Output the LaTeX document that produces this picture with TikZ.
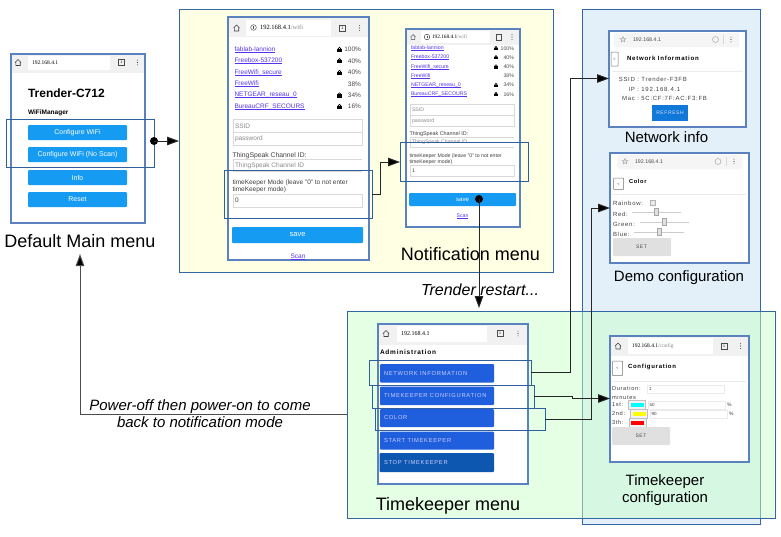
\documentclass[tikz,border=0pt]{standalone}
\usepackage{fontspec}
\setmainfont{Liberation Sans}
\newfontfamily\spf{Liberation Sans}[LetterSpace=12]
\newfontfamily\addrf{Liberation Serif}
\usetikzlibrary{arrows.meta,calc}
\definecolor{frameblue}{HTML}{5A82BE}
\definecolor{hlblue}{HTML}{2F5F9F}
\definecolor{panelblue}{HTML}{3465A4}
\definecolor{panelyellow}{HTML}{FFFFE3}
\definecolor{panelsky}{HTML}{E3F0FA}
\definecolor{panelgreen}{HTML}{CBFFCB}
\definecolor{wifibtn}{HTML}{169BF3}
\definecolor{tkbtn}{HTML}{1F5FDD}
\definecolor{tkdark}{HTML}{0D57B0}
\definecolor{linkc}{HTML}{5533EE}
\definecolor{barg}{HTML}{F1F1F1}
\definecolor{greytext}{HTML}{8A8A8A}
\definecolor{setgrey}{HTML}{E0E0E0}
\definecolor{refreshb}{HTML}{1078D8}
\definecolor{swcyan}{HTML}{00FFFF}
\definecolor{swyellow}{HTML}{FFFF00}
\definecolor{swred}{HTML}{FF0000}
\newcommand\fs[1]{\fontsize{#1}{#1}\selectfont}
\newcommand\fsl[2]{\fontsize{#1}{#2}\selectfont}
\newcommand\ulk[1]{\setbox0\hbox{#1}\rlap{\vrule width\wd0 height -.6pt depth .95pt}\box0 }
\newcount\tcnt
\newcommand\tx[4][]{\global\advance\tcnt by 1 \node[txt,#1] (t\the\tcnt) at (#2,#3) {#4};}
\newcommand\rbox[6][]{\fill[#2,#1] (#3,#4) rectangle (#5,#6);}
\newcommand\nbox[6]{\pgfmathsetmacro\hw{#5-#3}\pgfmathsetmacro\hh{#6-#4}\pgfmathsetmacro\cx{(#3+#5)/2}\pgfmathsetmacro\cy{(#4+#6)/2}\node[#1,minimum width=\hw pt,minimum height=\hh pt] (#2) at (\cx,\cy) {};}
\newcommand\homeicon[2]{\begin{scope}[shift={(#1,#2)}]\draw[black!75,line width=.6] (-3,0) -- (0,-3) -- (3,0) (-2.2,-.6) -- (-2.2,3) -- (2.2,3) -- (2.2,-.6);\end{scope}}
\newcommand\tabicon[2]{\begin{scope}[shift={(#1,#2)}]\draw[black!70,line width=.6] (-3,-3) rectangle (3,3);\node[txt,anchor=center] (tab#1) at (0,0) {\fs{3.5}1};\end{scope}}
\newcommand\dotsicon[2]{\begin{scope}[shift={(#1,#2)}]\fill[black!70] (0,-2.4) circle (.55) (0,0) circle (.55) (0,2.4) circle (.55);\end{scope}}
\newcommand\infoicon[2]{\begin{scope}[shift={(#1,#2)}]\draw[black!70,line width=.5] (0,0) circle (2.8);\fill[black!70] (-.3,-1.2) rectangle (.3,1.4);\end{scope}}
\newcommand\lockicon[3]{\begin{scope}[shift={(#1,#2)},scale=#3]\draw[black,line width=.6] (0,-1) circle (1.3);\fill[black] (-2,-.8) rectangle (2,2.2);\end{scope}}
\newcommand\staricon[2]{\begin{scope}[shift={(#1,#2)}]\draw[black!35,line width=.5] (0,-3) -- (.8,-1) -- (2.9,-.9) -- (1.2,.4) -- (1.8,2.4) -- (0,1.2) -- (-1.8,2.4) -- (-1.2,.4) -- (-2.9,-.9) -- (-.8,-1) -- cycle;\end{scope}}
\newcommand\reloadicon[2]{\begin{scope}[shift={(#1,#2)}]\draw[black!30,line width=.6] (0,0) circle (3);\end{scope}}
\newcommand\slider[3]{\draw[black!20,line width=.8] (#1,#3) -- (#2,#3);}
\newcommand\thumb[2]{\draw[black!35,fill=black!12,line width=.4] ({#1-2},{#2-3.5}) rectangle ({#1+2},{#2+3.5});}
\tikzset{
  txt/.style={inner sep=0pt,outer sep=0pt,anchor=west,text=black},
  capt/.style={inner sep=0pt,outer sep=0pt,anchor=center,align=center,text=black},
  panelbox/.style={draw=panelblue,line width=1pt,inner sep=0pt,outer sep=0pt},
  screen/.style={draw=frameblue,line width=1.1pt,fill=white,inner sep=0pt,outer sep=0pt},
  hlbox/.style={draw=hlblue,line width=1pt,inner sep=0pt,outer sep=0pt},
  btn/.style={rounded corners=1pt},
  conn/.style={draw=black!85,line width=1pt},
  arr/.style={conn,-{Triangle[length=12pt,width=8.5pt,fill=black]}},
  dotn/.style={circle,fill=black,inner sep=0pt,minimum size=8pt},
  field/.style={draw=black!15,line width=.7pt,fill=white},
}
\begin{document}
\begin{tikzpicture}[x=1pt,y=-1pt]
\useasboundingbox (0,0) rectangle (781,536);
% panels
\nbox{panelbox,fill=panelsky}{demopanel}{582}{9}{760}{524}
\nbox{panelbox,fill=panelyellow}{notifpanel}{179}{9}{553}{272}
\nbox{panelbox,fill=panelgreen,fill opacity=.5}{tkpanel}{347}{311}{775}{518}

% ---------- main menu
\nbox{screen}{mainscr}{11}{54}{145}{223}
\rbox{barg}{11.6}{54.6}{144.4}{73}
\rbox{white}{28}{56}{110}{70}
\homeicon{18}{62.5}\tabicon{121.5}{62.5}\dotsicon{137.5}{62.5}
\tx{32}{62.5}{\addrf\fs{5.5}192.168.4.1}
\tx{28}{93}{\bfseries\fs{12}Trender-C712}
\tx{28}{113}{\bfseries\fs{6.5}WiFiManager}
\rbox[btn]{wifibtn}{28}{125}{127}{140}
\rbox[btn]{wifibtn}{28}{147}{127}{162}
\rbox[btn]{wifibtn}{28}{170}{127}{185}
\rbox[btn]{wifibtn}{28}{192}{127}{207}
\tx[anchor=center,text=white]{77.5}{132.5}{\fs{7}Configure WiFi}
\tx[anchor=center,text=white]{77.5}{154.5}{\fs{7}Configure WiFi (No Scan)}
\tx[anchor=center,text=white]{77.5}{177.5}{\fs{7}Info}
\tx[anchor=center,text=white]{77.5}{199.5}{\fs{7}Reset}

% ---------- notification screen 1
\nbox{screen}{notifa}{228}{17}{369}{260}
\rbox{barg}{228.6}{17.6}{368.4}{37}
\rbox{white}{246}{20}{331}{36}
\homeicon{236.5}{28}\infoicon{253.5}{27.5}\tabicon{342.5}{28}\dotsicon{359.5}{28}
\tx{260}{27.5}{\addrf\fs{6.5}192.168.4.1{\color{greytext}/wifi}}
\foreach \yy/\nn/\pp/\ll in {49.6/fablab-lannion/100/1,61/Freebox-537200/40/1,72.6/FreeWifi\_secure/40/1,84/FreeWifi/38/0,95.2/NETGEAR\_reseau\_0/34/1,106.6/BureauCRF\_SECOURS/16/1}{
  \tx[text=linkc]{234.5}{\yy}{\fs{6.5}\ulk{\nn}}
  \tx[anchor=east,text=black!70]{361}{\yy}{\fs{6.5}\pp\%}
  \ifnum\ll=1 \lockicon{339.5}{\yy}{1.05}\fi
}
\draw[field] (233,119) rectangle (362,145);
\draw[black!15,line width=.7pt] (233,132) -- (362,132);
\tx[text=greytext]{235}{126}{\fs{6.5}SSID}
\tx[text=greytext]{235}{139}{\fs{6.5}password}
\tx[text=black!75]{232.5}{155.5}{\fs{6.8}ThingSpeak Channel ID:}
\draw[black!15,line width=.7pt,fill=white] (233,172) -- (233,159) -- (362,159);
\draw[black!15,line width=.7pt] (233,171.5) -- (362,171.5);
\tx[text=greytext]{235}{165.5}{\fs{6.5}ThingSpeak Channel ID}
\tx[text=black!75]{232.5}{182.5}{\fs{6.5}timeKeeper Mode (leave "0" to not enter}
\tx[text=black!75]{232.5}{190}{\fs{6.5}timeKeeper mode)}
\draw[field] (233,194) rectangle (362,207);
\tx[text=black!75]{235}{200}{\fs{6.5}0}
\rbox[btn]{wifibtn}{232}{227}{363}{243}
\tx[anchor=center,text=white]{297.5}{235}{\fs{7.5}save}
\tx[anchor=center,text=linkc]{298}{256.5}{\fs{6.5}\ulk{Scan}}

% ---------- notification screen 2
\nbox{screen}{notifb}{406}{29}{520}{227}
\rbox{barg}{406.6}{29.6}{519.4}{45}
\rbox{white}{421}{31}{490}{43}
\begin{scope}[shift={(413,37)},scale=.8]\draw[black!75,line width=.5] (-3,0) -- (0,-3) -- (3,0) (-2.2,-.6) -- (-2.2,3) -- (2.2,3) -- (2.2,-.6);\end{scope}
\infoicon{427}{37}
\draw[black!70,line width=.5] (496.5,34) rectangle (501.5,40);
\dotsicon{512}{37}
\tx{432}{37}{\addrf\fs{5.3}192.168.4.1{\color{greytext}/wifi}}
\foreach \yy/\nn/\pp/\ll in {48.3/fablab-lannion/100/1,57.4/Freebox-537200/40/1,66.7/FreeWifi\_secure/40/1,76/FreeWifi/38/0,85.2/NETGEAR\_reseau\_0/34/1,94.3/BureauCRF\_SECOURS/16/1}{
  \tx[text=linkc]{411}{\yy}{\fs{5.2}\ulk{\nn}}
  \tx[anchor=east,text=black!70]{514}{\yy}{\fs{5.2}\pp\%}
  \ifnum\ll=1 \lockicon{496}{\yy}{.85}\fi
}
\draw[field] (410,104) rectangle (514,126);
\draw[black!15,line width=.6pt] (410,115) -- (514,115);
\tx[text=greytext]{412}{110}{\fs{5.2}SSID}
\tx[text=greytext]{412}{121}{\fs{5.2}password}
\tx[text=black!75]{409.5}{134}{\fs{5.4}ThingSpeak Channel ID:}
\draw[black!15,line width=.6pt] (410,148) -- (410,137.5) -- (514,137.5) (410,147) -- (514,147);
\tx[text=greytext]{412}{142.5}{\fs{5.2}ThingSpeak Channel ID}
\tx[text=black!75]{409.5}{156}{\fs{5.2}timeKeeper Mode (leave "0" to not enter}
\tx[text=black!75]{409.5}{162}{\fs{5.2}timeKeeper mode)}
\draw[field] (410,165) rectangle (514,176);
\tx[text=black!75]{412}{170.5}{\fs{5.2}1}
\rbox[btn]{wifibtn}{409}{193}{516}{206}
\tx[anchor=center,text=white]{462.5}{199.5}{\fs{6}save}
\tx[anchor=center,text=linkc]{462.5}{216.5}{\fs{5.2}\ulk{Scan}}

% ---------- network info
\nbox{screen}{netscr}{609}{31}{746}{127}
\fill[black!4,rounded corners=1.5pt] (614,33) rectangle (739,47);
\staricon{623}{39.5}\reloadicon{715.5}{39.5}\dotsicon{731}{39.5}
\draw[black!15,line width=.4] (723,35) -- (723,44);
\tx[text=black!70]{633}{39.5}{\fs{5.3}192.168.4.1}
\draw[black!55,line width=.5,rounded corners=.6pt] (611,52) rectangle (618,66);
\tx[anchor=center,text=black!70]{614.5}{59}{\fs{4}<}
\tx{627}{58}{\spf\bfseries\fs{6.1}Network Information}
\draw[black!8,line width=.6] (612,71.5) -- (743,71.5);
\tx[anchor=east,text=black!75]{639}{79.5}{\spf\fs{6}SSID :}
\tx[text=black!75]{639}{79.5}{\spf\fs{6}\ Trender-F3FB}
\tx[anchor=east,text=black!75]{639}{89}{\spf\fs{6}IP :}
\tx[text=black!75]{639}{89}{\spf\fs{6}\ 192.168.4.1}
\tx[anchor=east,text=black!75]{639}{98.3}{\spf\fs{6}Mac :}
\tx[text=black!75]{639}{98.3}{\spf\fs{6}\ 5C:CF:7F:AC:F3:FB}
\rbox{refreshb}{652}{105}{688}{121}
\tx[anchor=center,text=white!85!blue]{670}{113}{\spf\fs{5}REFRESH}

% ---------- colour
\nbox{screen}{colscr}{610}{153}{749}{263}
\fill[black!4,rounded corners=1.5pt] (617,155) rectangle (742,169);
\staricon{625}{161.5}\reloadicon{718}{161.5}\dotsicon{734}{161.5}
\draw[black!15,line width=.4] (726,157) -- (726,166);
\tx[text=black!70]{635}{161.5}{\fs{5.3}192.168.4.1}
\draw[black!55,line width=.5,rounded corners=.6pt] (613.5,178) rectangle (623.5,189.5);
\tx[anchor=center,text=black!70]{618.5}{184}{\fs{4}<}
\tx{629}{181}{\spf\bfseries\fs{5.7}Color}
\draw[black!8,line width=.6] (612,194.5) -- (746,194.5);
\tx[text=black!75]{613}{203.5}{\spf\fs{6}Rainbow:}
\draw[black!30,fill=black!8,line width=.4] (650.5,200) rectangle (655.5,205);
\tx[text=black!75]{613}{214}{\spf\fs{6}Red:}
\slider{632}{681}{212}\thumb{656}{212}
\tx[text=black!75]{613}{224.5}{\spf\fs{6}Green:}
\slider{640}{689}{222}\thumb{664.5}{222}
\tx[text=black!75]{613}{234.5}{\spf\fs{6}Blue:}
\slider{634}{684}{232}\thumb{659}{232}
\rbox[btn]{setgrey}{613}{238}{671}{256}
\tx[anchor=center,text=black!70]{641.5}{247}{\spf\fs{5}SET}

% ---------- timekeeper config
\nbox{screen}{cfgscr}{610}{336}{749}{462}
\rbox{barg}{610.6}{336.6}{748.4}{356}
\rbox{white}{628}{338}{713}{354}
\homeicon{618}{346}\tabicon{724}{346}\dotsicon{740.5}{346}
\tx{632}{346}{\addrf\fs{5.5}192.168.4.1{\color{greytext}/config}}
\draw[black!55,line width=.5,rounded corners=.6pt] (612.5,361) rectangle (622.5,375.5);
\tx[anchor=center,text=black!70]{617.5}{368}{\fs{4}<}
\tx{628}{367}{\spf\bfseries\fs{6}Configuration}
\draw[black!8,line width=.6] (612,381.5) -- (746,381.5);
\tx[text=black!75]{612}{388.5}{\spf\fs{5.7}Duration:}
\draw[black!8,line width=.6] (647,385) rectangle (724,393);
\tx[text=black!75]{649}{389}{\fs{4.5}1}
\tx[text=black!75]{612}{397}{\spf\fs{5.7}minutes}
\tx[text=black!75]{612}{404.5}{\spf\fs{5.7}1st:}
\draw[black!25,fill=black!5,line width=.5] (628.5,400.5) rectangle (645.5,409);
\rbox{swcyan}{630.5}{402.5}{643.5}{407}
\draw[black!8,line width=.6] (648,401) rectangle (725,409);
\tx[text=black!75]{649.5}{405}{\fs{4.5}50}
\tx[text=black!75]{727}{404.5}{\fs{5}\%}
\tx[text=black!75]{612}{413.5}{\spf\fs{5.7}2nd:}
\draw[black!25,fill=black!5,line width=.5] (630.5,409.5) rectangle (647.5,418);
\rbox{swyellow}{632.5}{411.5}{645.5}{416}
\draw[black!8,line width=.6] (650,410) rectangle (727,418);
\tx[text=black!75]{651.5}{414}{\fs{4.5}90}
\tx[text=black!75]{729}{413.5}{\fs{5}\%}
\tx[text=black!75]{612}{422.5}{\spf\fs{5.7}3th:}
\draw[black!25,fill=black!5,line width=.5] (629,418.5) rectangle (646,427);
\rbox{swred}{631}{420.5}{644}{425}
\rbox[btn]{setgrey}{612}{427}{670}{445}
\tx[anchor=center,text=black!70]{641}{436}{\spf\fs{5}SET}

% ---------- timekeeper menu
\nbox{screen}{tkscr}{378}{324}{528}{484}
\rbox{barg}{378.6}{324.6}{527.4}{345}
\rbox{white}{397}{326}{487}{342}
\homeicon{386}{333.5}\tabicon{500}{333.5}\dotsicon{518}{333.5}
\tx{401}{333.5}{\addrf\fs{6}192.168.4.1}
\tx{380}{352.5}{\spf\bfseries\fs{6.5}Administration}
\rbox[btn]{tkbtn}{380}{364}{494}{382.5}
\rbox[btn]{tkbtn}{380}{386.5}{494}{405}
\rbox[btn]{tkbtn}{380}{409}{494}{427}
\rbox[btn]{tkbtn}{380}{431.5}{494}{449.5}
\rbox[btn]{tkdark}{379.5}{453}{494}{472}
\tx[text=white!80!blue]{384}{373}{\spf\fs{5.8}NETWORK INFORMATION}
\tx[text=white!80!blue]{384}{395.5}{\spf\fs{5.8}TIMEKEEPER CONFIGURATION}
\tx[text=white!80!blue]{384}{417.5}{\spf\fs{5.8}COLOR}
\tx[text=white!80!blue]{384}{440}{\spf\fs{5.8}START TIMEKEEPER}
\tx[text=white!80!blue]{384}{462.5}{\spf\fs{5.8}STOP TIMEKEEPER}

% ---------- highlight boxes
\nbox{hlbox}{mainhl}{6}{119}{154}{167}
\nbox{hlbox}{hla}{224.5}{170}{372}{218}
\nbox{hlbox}{hlb}{400}{142}{528}{181}
\nbox{hlbox}{hlnet}{369}{360}{531}{385}
\nbox{hlbox}{hlcfg}{372}{385.5}{534}{408}
\nbox{hlbox}{hlcol}{375}{408}{545}{430}

% ---------- connectors
\node[dotn] (dota) at ($(mainhl.east)+(0,-2)$) {};
\draw[arr] (dota.center) -- (dota.center -| notifpanel.west);
\draw[arr] (hla.east) -- (hla.east -| 380,0) -- (380,162) -- (hlb.west |- 0,162);
\node[dotn] (dotb) at (479,199) {};
\coordinate (restartend) at (479,308);
\draw[arr] (dotb.center) -- (restartend);
\draw[arr] (hlnet.east) -- (hlnet.east -| 570,0) -- (570,78.5) -- (netscr.west |- 0,78.5);
\draw[arr] (hlcfg.east) -- (hlcfg.east -| 572,0) -- (572,398.5) -- (cfgscr.west |- 0,398.5);
\draw[arr] (hlcol.east) -- (hlcol.east -| 591.5,0) -- (591.5,208) -- (colscr.west |- 0,208);
\coordinate (mainend) at (80,254);
\draw[arr,draw=black!70] (tkpanel.west |- 0,414.5) -- (80,414.5) -- (mainend);

% ---------- captions
\node[capt,font=\fs{18}] (capmain) at (80,241) {Default Main menu};
\node[capt,font=\fs{18}] (capnotif) at (470.5,254) {Notification menu};
\node[capt,font=\fs{15}] (capnet) at (666.5,137) {Network info};
\node[capt,font=\fs{15}] (capdemo) at (679,278) {Demo configuration};
\node[capt,font=\fs{18}] (captk) at (448,506) {Timekeeper menu};
\node[capt,font=\fsl{15}{17}] (capcfg) at (665,490.5) {Timekeeper\\configuration};
\node[capt,font=\fs{16}\itshape] (caprestart) at (480,289.5) {Trender restart...};
\node[capt,font=\fsl{15}{17}\itshape] (cappower) at (200,413.5) {Power-off then power-on to come\\back to notification mode};
\end{tikzpicture}
\end{document}
